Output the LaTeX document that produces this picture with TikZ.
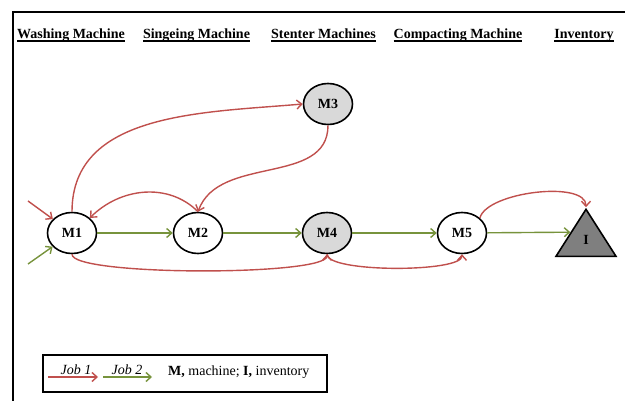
\documentclass[tikz,border=0pt]{standalone}
\usepackage{fontspec}
\setmainfont{Liberation Serif}
\usetikzlibrary{arrows.meta,shapes.geometric}
\definecolor{jobred}{HTML}{C0504D}
\definecolor{jobgreen}{HTML}{77933C}
\definecolor{lightfill}{HTML}{D9D9D9}
\definecolor{darkfill}{HTML}{7F7F7F}
\newcommand{\hdr}[1]{\setbox0\hbox{\bfseries #1}\rlap{\rule[-3.2pt]{\wd0}{1.7pt}}\box0}
\tikzset{
  mach/.style={ellipse,draw,line width=1.6pt,fill=white,minimum width=49pt,
    minimum height=41pt,inner sep=0pt,font=\fontsize{14}{16}\selectfont\bfseries},
  stent/.style={mach,fill=lightfill},
  inv/.style={isosceles triangle,isosceles triangle stretches,shape border rotate=90,
    draw,line width=1.6pt,fill=darkfill,minimum width=60pt,minimum height=47pt,
    inner sep=0pt,font=\fontsize{14}{16}\selectfont\bfseries},
  job1/.style={draw=jobred,line width=1.4pt,-{Straight Barb[length=5pt,width=9pt]}},
  job2/.style={draw=jobgreen,line width=1.4pt,-{Straight Barb[length=5pt,width=9pt]}},
}
\begin{document}
\begin{tikzpicture}[x=1pt,y=-1pt,font=\fontsize{14}{16}\selectfont]
  \useasboundingbox (0,0) rectangle (625,401);
  % frame
  \draw[line width=1.4pt] (13,401) -- (13,12) -- (625,12);
  % headings
  \node[anchor=base] (hwash) at (71,39) {\hdr{Washing Machine}};
  \node[anchor=base] (hsing) at (196.5,39) {\hdr{Singeing Machine}};
  \node[anchor=base] (hsten) at (323.5,39) {\hdr{Stenter Machines}};
  \node[anchor=base] (hcomp) at (458,39) {\hdr{Compacting Machine}};
  \node[anchor=base] (hinv) at (584,39) {\hdr{Inventory}};
  % machines
  \draw
    (72,233) node[mach] (M1){M1}
    (198,233) node[mach] (M2){M2}
    (328,104) node[stent] (M3){M3}
    (327,233) node[stent] (M4){M4}
    (462,233) node[mach] (M5){M5}
    (586,240) node[inv] (I){I};
  \coordinate (in1) at (28,201);
  \coordinate (in2) at (28,264);
  % job 1
  \begin{scope}[job1]
    \draw (in1) to (M1);
    \draw (M1.north) to[out=90,in=185] (M3.west);
    \draw (M3.south) to[out=-90,in=70] (M2.north);
    \draw (M2.north) to[out=135,in=45] (M1.north east);
    \draw (M1.south) to[out=-90,in=-90,looseness=0.22] (M4.south);
    \draw (M4.south) to[out=-90,in=-90,looseness=0.35] (M5.south);
    \draw (M5.north east) to[out=75,in=90,looseness=0.65] (I.apex);
  \end{scope}
  % job 2
  \begin{scope}[job2]
    \draw (in2) to (M1);
    \draw (M1) to (M2);
    \draw (M2) to (M4);
    \draw (M4) to (M5);
    \draw (M5) to (I.left side);
  \end{scope}
  % legend
  \draw[line width=1.4pt] (43,355) rectangle (327,392);
  \coordinate (j1a) at (48,377);
  \coordinate (j1b) at (98,377);
  \coordinate (j2a) at (103,377);
  \coordinate (j2b) at (152,377);
  \draw[job1] (j1a) -- (j1b);
  \draw[job2] (j2a) -- (j2b);
  \node[anchor=base] (ljob1) at (76,374.5) {\itshape Job 1};
  \node[anchor=base] (ljob2) at (127,374.5) {\itshape Job 2};
  \node[anchor=base west,inner sep=0pt] (lkey) at (168,376) {\textbf{M,} machine; \textbf{I,} inventory};
\end{tikzpicture}
\end{document}
